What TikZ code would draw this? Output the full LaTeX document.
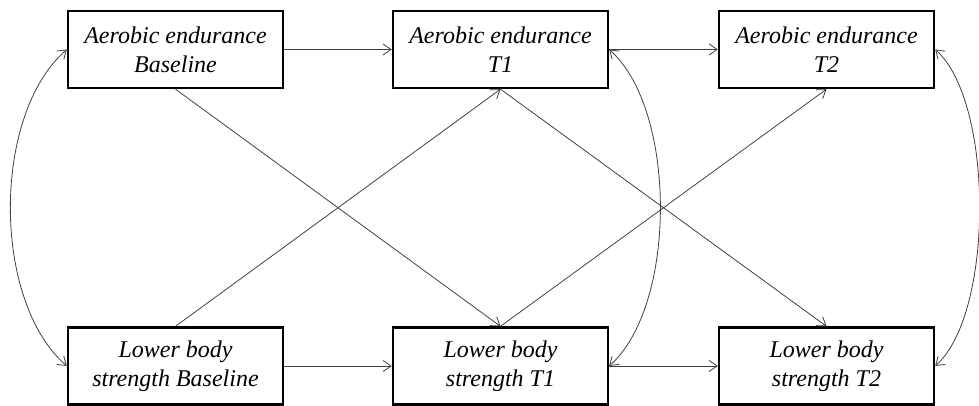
\documentclass[tikz,border=0pt]{standalone}
\usepackage{fontspec}
\setmainfont{Liberation Serif}
\usetikzlibrary{arrows.meta}
\begin{document}
\begin{tikzpicture}[x=1pt,y=1pt,
  varbox/.style={draw=black, line width=2.4pt, minimum width=215pt, minimum height=77pt,
    inner sep=0pt, align=center, font=\fontsize{24}{29}\selectfont\itshape},
  path/.style={draw=black!75, line width=0.8pt, -{Straight Barb[length=8pt,width=11pt]}},
  cov/.style={draw=black!75, line width=0.8pt, {Straight Barb[length=8pt,width=11pt]}-{Straight Barb[length=8pt,width=11pt]}}]
\useasboundingbox (0,0) rectangle (979,406);
% aerobic endurance row
\node[varbox] (ae0) at (175.5,356.5) {Aerobic endurance\\Baseline};
\node[varbox] (ae1) at (500.5,356.5) {Aerobic endurance\\T1};
\node[varbox] (ae2) at (826.5,356.5) {Aerobic endurance\\T2};
% lower body strength row
\node[varbox] (ls0) at (175.5,40) {Lower body\\strength Baseline};
\node[varbox] (ls1) at (500.5,40) {Lower body\\strength T1};
\node[varbox] (ls2) at (826.5,40) {Lower body\\strength T2};
% autoregressive paths
\draw[path] (ae0) -- (ae1);
\draw[path] (ae1) -- (ae2);
\draw[path] (ls0) -- (ls1);
\draw[path] (ls1) -- (ls2);
% cross-lagged paths
\draw[path] (ae0.south) -- (ls1.north);
\draw[path] (ls0.north) -- (ae1.south);
\draw[path] (ae1.south) -- (ls2.north);
\draw[path] (ls1.north) -- (ae2.south);
% within-wave covariances
\draw[cov] (ae0.west) .. controls +(-75,-65) and +(-75,65) .. (ls0.west);
\draw[cov] (ae1.east) .. controls +(68,-60) and +(68,60) .. (ls1.east);
\draw[cov] (ae2.east) .. controls +(59,-52) and +(59,52) .. (ls2.east);
\end{tikzpicture}
\end{document}
